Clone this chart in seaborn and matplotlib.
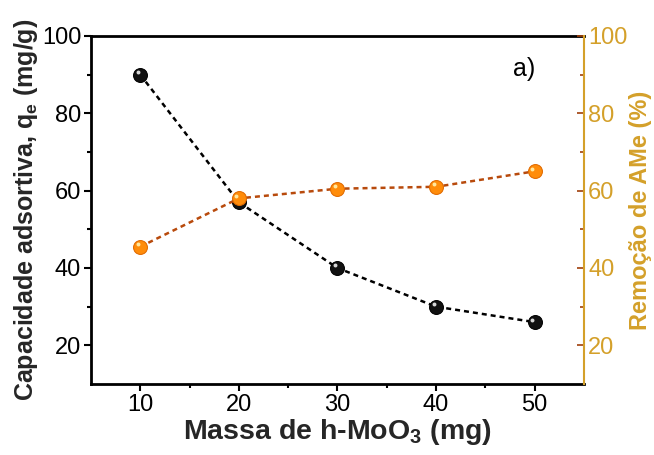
import matplotlib
matplotlib.use("Agg")
import matplotlib.pyplot as plt
import matplotlib.transforms as mtransforms
import seaborn as sns
import pandas as pd

massa = [10, 20, 30, 40, 50]
capacidade = [90, 57, 40, 30, 26]
remocao = [45.5, 58, 60.5, 61, 65]
xticks = [10, 20, 30, 40, 50]
yticks = [20, 40, 60, 80, 100]

sns.set_theme(style="white")
plt.rcParams['font.family'] = ['Liberation Sans', 'DejaVu Sans']
plt.rcParams['mathtext.fontset'] = 'custom'
plt.rcParams['mathtext.rm'] = 'Liberation Sans:bold'
plt.rcParams['mathtext.bf'] = 'Liberation Sans:bold'

df = pd.DataFrame({"massa": massa, "cap": capacidade, "rem": remocao})

gold = "#D4A02A"
fig = plt.figure(figsize=(6.54, 4.55), dpi=100)
ax = fig.add_axes([0.139, 0.156, 0.754, 0.765])
ax2 = ax.twinx()

sns.lineplot(data=df, x="massa", y="cap", ax=ax, color="black",
             linestyle=(0, (2, 1.6)), lw=1.8, marker="o", markersize=10,
             markerfacecolor="#111111", markeredgecolor="black")
sns.lineplot(data=df, x="massa", y="rem", ax=ax2, color="#B84A0C",
             linestyle=(0, (2, 1.6)), lw=1.8, marker="o", markersize=10,
             markerfacecolor="#FF8C0A", markeredgecolor="#E06A00")

# specular highlights on the sphere-like markers
off = mtransforms.ScaledTranslation(-1.8/72, 1.8/72, fig.dpi_scale_trans)
ax.scatter(massa, capacidade, s=8, color="#D8D8D8", zorder=5, linewidths=0,
           transform=ax.transData + off)
ax2.scatter(massa, remocao, s=8, color="#FFE8A0", zorder=5, linewidths=0,
            transform=ax2.transData + off)

ax.set_xlim(5, 55)
ax.set_ylim(10, 100)
ax2.set_ylim(10, 100)
ax.set_xticks(xticks)
ax.set_xticks([15, 25, 35, 45], minor=True)
ax.set_yticks(yticks)
ax.set_yticks([30, 50, 70, 90], minor=True)
ax2.set_yticks(yticks)
ax2.set_yticks([30, 50, 70, 90], minor=True)

ax.set_xlabel(r"Massa de h-MoO$_\mathregular{3}$ (mg)", fontsize=20.5, fontweight="bold", labelpad=1)
ax.set_ylabel(r"Capacidade adsortiva, q$_\mathregular{e}$ (mg/g)", fontsize=18, fontweight="bold", labelpad=1)
ax2.set_ylabel("Remoção de AMe (%)", fontsize=17, fontweight="bold", color=gold, labelpad=1)

ax.tick_params(axis="both", which="both", direction="out", colors="black",
               labelsize=17, width=1.5, pad=2)
ax.tick_params(axis="both", which="major", length=5)
ax.tick_params(axis="both", which="minor", length=3)
ax.tick_params(axis="x", which="both", bottom=True, top=False)
ax.tick_params(axis="y", which="both", left=True, right=False)
ax2.tick_params(axis="y", which="both", direction="in", color="#A0400A",
                labelcolor=gold, labelsize=17, width=1.2, pad=3)
ax2.tick_params(axis="y", which="major", length=5)
ax2.tick_params(axis="y", which="minor", length=3)

for name, sp in ax.spines.items():
    sp.set_color("black")
    sp.set_linewidth(2)
ax.spines["right"].set_visible(False)
for name, sp in ax2.spines.items():
    sp.set_visible(False)
ax2.spines["right"].set_visible(True)
ax2.spines["right"].set_color(gold)
ax2.spines["right"].set_linewidth(1.5)

ax.text(0.855, 0.885, "a)", transform=ax.transAxes, fontsize=18, color="black")
ax.grid(False)
ax2.grid(False)

fig.savefig("out.png", dpi=100)
